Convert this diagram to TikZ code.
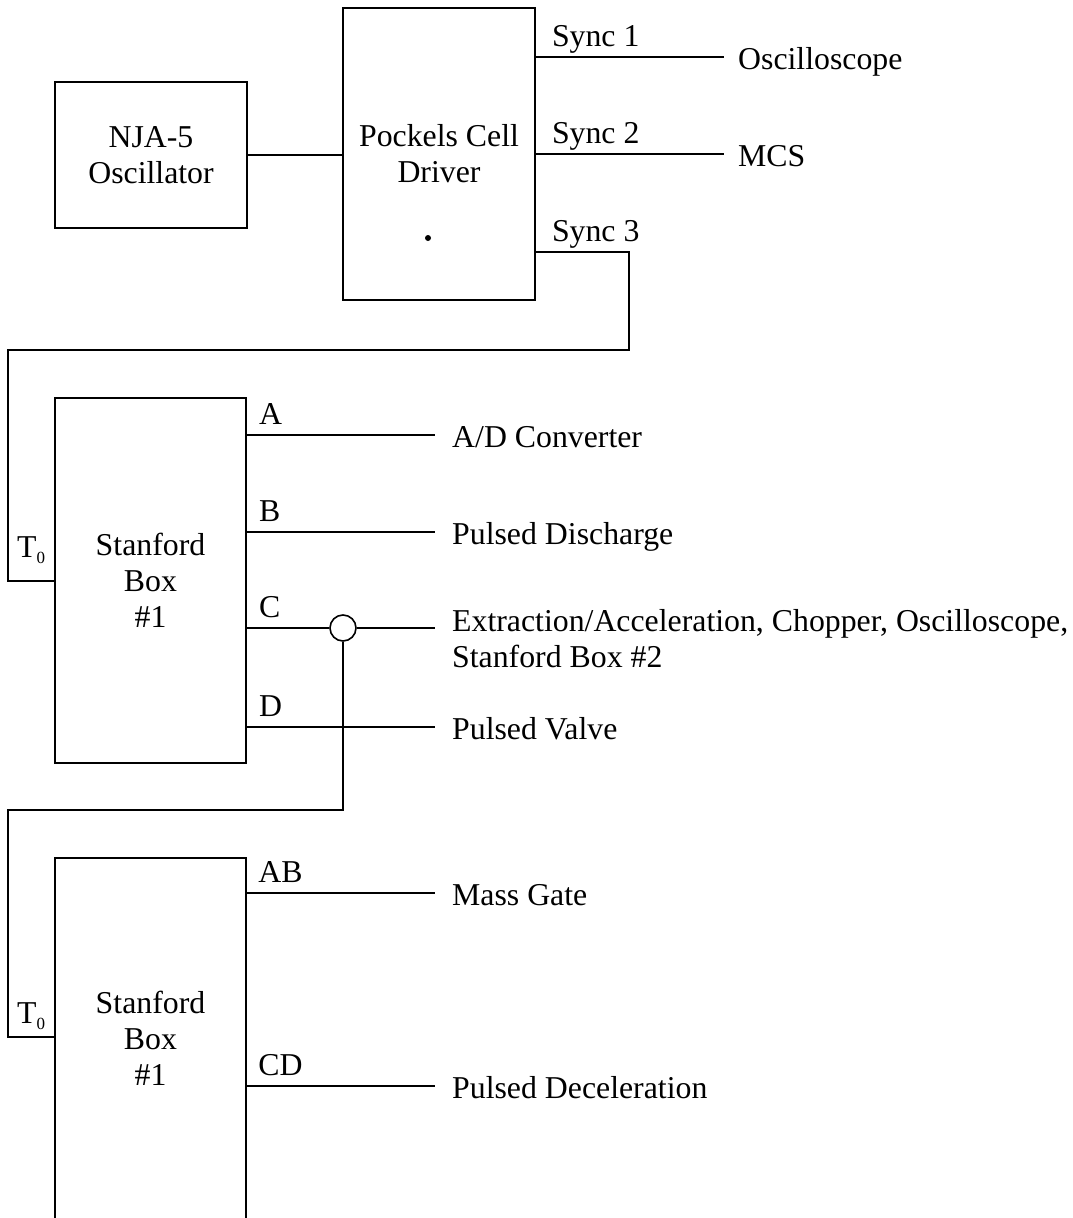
\documentclass[tikz,border=0pt]{standalone}
\usepackage{fontspec}
\setmainfont{Liberation Serif}
\usetikzlibrary{positioning, calc}
\tikzstyle{unit} = [rectangle, draw=black, line width=1.6pt, text centered, align=center]
\tikzstyle{wire} = [line width=1.6pt]
\tikzstyle{port} = [anchor=base west, inner sep=0pt]
\tikzstyle{dest} = [anchor=base west, inner sep=0pt, align=left]
\newcommand{\tzero}{T\raisebox{-6pt}{\fontsize{17}{17}\selectfont 0}}

\begin{document}
\begin{tikzpicture}[x=1pt, y=-1pt, every node/.style={font=\fontsize{31.8}{36}\selectfont}]
    \useasboundingbox (0,0) rectangle (1073,1218);
    \node (osc) [unit, minimum width=192, minimum height=146] at (151,155) {NJA-5\\Oscillator};
    \node (pcd) [unit, minimum width=192, minimum height=292] at (439,154) {Pockels Cell\\Driver};
    \fill (428,238) circle (3pt);
    \draw [wire] (osc.east) -- (osc.east -| pcd.west);

    \foreach \y/\s/\t/\n in {57/1/Oscilloscope/o1, 154/2/MCS/o2} {
        \coordinate (e\s) at (724,\y);
        \draw [wire] (pcd.east |- e\s) -- (e\s);
        \node [port] at ($(pcd.east |- e\s)+(16,-11)$) {Sync \s};
        \node (\n) [dest] at ($(e\s)+(14,12)$) {\t};
    }
    \coordinate (e3) at (629,252);
    \coordinate (t1) at (8,581);
    \node [port] at ($(pcd.east |- e3)+(16,-11)$) {Sync 3};

    \node (sb1) [unit, minimum width=191, minimum height=365] at (150.5,580.5) {Stanford\\Box\\\#1};
    \draw [wire] (pcd.east |- e3) -- (e3) -- (629,350) -- (8,350) -- (t1) -- (t1 -| sb1.west);
    \node (t0a) [port] at (17,557) {\tzero};

    \foreach \y/\p/\t in {435/A/{A/D Converter}, 532/B/Pulsed Discharge, 727/D/Pulsed Valve} {
        \coordinate (c\p) at (435,\y);
        \draw [wire] (sb1.east |- c\p) -- (c\p);
        \node [port] at ($(sb1.east |- c\p)+(12,-11)$) {\p};
        \node (d\p) [dest] at ($(c\p)+(17,12)$) {\t};
    }

    % C output with junction to second box
    \node (jn) [circle, draw, wire, minimum size=26, inner sep=0pt] at (343,628) {};
    \coordinate (cC) at (435,628);
    \draw [wire] (sb1.east |- jn) -- (jn.west);
    \draw [wire] (jn.east) -- (cC);
    \node [port] at ($(sb1.east |- jn)+(12,-11)$) {C};
    \node (dC) [dest] at ($(cC)+(17,39)$) {Extraction/Acceleration, Chopper, Oscilloscope,\\Stanford Box \#2};

    \node (sb2) [align=center, minimum width=191, minimum height=360] at (150.5,1038) {Stanford\\Box\\\#1};
    \draw [wire] (sb2.south west) -- (sb2.north west) -- (sb2.north east) -- (sb2.south east);
    \coordinate (t2) at (8,1037);
    \draw [wire] (jn.south) -- (343,810) -- (8,810) -- (t2) -- (t2 -| sb2.west);
    \node (t0b) [port] at (17,1023) {\tzero};

    \foreach \y/\p/\t in {893/AB/Mass Gate, 1086/CD/Pulsed Deceleration} {
        \coordinate (c\p) at (435,\y);
        \draw [wire] (sb2.east |- c\p) -- (c\p);
        \node [port] at ($(sb2.east |- c\p)+(12,-11)$) {\p};
        \node (d\p) [dest] at ($(c\p)+(17,12)$) {\t};
    }
\end{tikzpicture}
\end{document}
